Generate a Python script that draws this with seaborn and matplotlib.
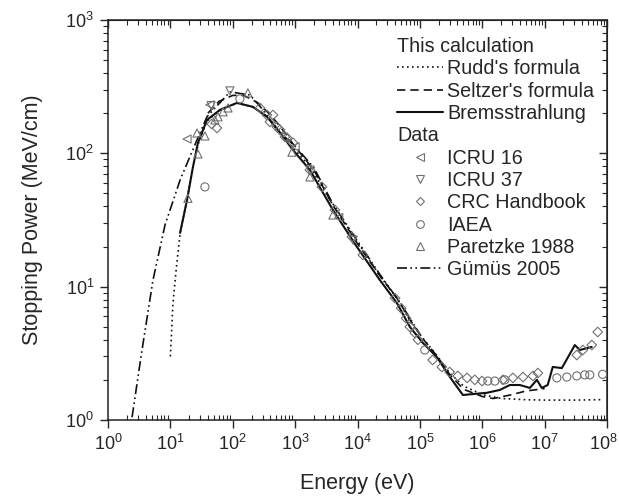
import numpy as np
import pandas as pd
import seaborn as sns
import matplotlib.pyplot as plt
import matplotlib.transforms as mtransforms
from matplotlib.lines import Line2D

# curves (energy in eV, stopping power in MeV/cm)
rudd_e = [10, 11, 12.5, 14.3, 18.5, 23, 28, 38.6, 62, 117, 211, 353, 530, 922, 1726, 4036,
          9772, 2.3e4, 4.3e4, 7e4, 1.12e5, 1.87e5, 3e5, 5e5, 1e6, 2e6, 5e6, 1e7, 3e7, 8e7]
rudd_s = [3.0, 7.5, 14, 25, 45, 78, 118, 175, 210, 238, 222, 190, 152, 110, 80, 41,
          22, 12, 8.2, 5.5, 4.1, 3.05, 2.25, 1.8, 1.55, 1.45, 1.42, 1.41, 1.41, 1.42]

seltzer_e = [40, 60, 100, 150, 250, 400, 600, 1000, 2000, 4000, 1e4, 2.3e4, 4.3e4, 7e4,
             1.1e5, 1.9e5, 3e5, 5e5, 1e6, 1.5e6, 3e6, 5e6, 1e7]
seltzer_s = [200, 245, 272, 272, 240, 195, 155, 112, 75, 41, 21, 12, 8.2, 5.6,
             4.1, 3.0, 2.2, 1.7, 1.5, 1.45, 1.55, 1.65, 1.72]

brems_e = [14.3, 18.5, 23, 27.7, 38.6, 62.4, 117, 211, 353, 530, 922, 1726, 4036, 9772,
           22860, 42760, 69180, 1.12e5, 1.87e5, 3.03e5, 4.89e5, 1.19e6, 1.91e6, 2.77e6,
           4.0e6, 5.8e6, 7.5e6, 9.0e6, 1.12e7, 1.35e7, 1.89e7, 3.05e7, 3.66e7, 5.7e7]
brems_s = [25.3, 44.7, 79, 120, 178, 212, 239, 223, 188, 150, 106, 75, 37.6, 19.9,
           11.2, 7.55, 4.99, 3.78, 2.97, 2.10, 1.54, 1.60, 1.68, 1.83,
           1.83, 1.74, 2.0, 1.74, 1.83, 2.50, 2.45, 3.65, 3.35, 3.53]

gumus_e = [2.43, 3.51, 5.26, 8.2, 14.3, 26.7, 38.6, 90, 189, 305, 511, 1000, 2000, 4000,
           1e4, 2.3e4, 5e4, 1e5]
gumus_s = [1.05, 3.35, 11.2, 29, 63, 126, 188, 289, 274, 212, 150, 113, 78, 42,
           22, 12.3, 7.4, 4.4]

# data points
icru16_e = [18.5, 43, 1000, 5000]
icru16_s = [128, 231, 112, 33]

icru37_e = [90, 45, 1726, 8500]
icru37_s = [294, 228, 75, 22.3]

crc_e = [46, 55.8, 273, 353, 441, 395, 511, 570, 739, 687, 922, 1726, 2690, 4345, 8130,
         12200, 4e4, 5e4, 6e4, 6.9e4, 8.3e4, 9.3e4, 1.6e5, 2.25e5, 3.0e5, 4.06e5, 5.7e5,
         7.6e5, 9.9e5, 2.14e6, 3.1e6, 4.5e6, 6.5e6, 7.8e6, 3.28e7, 4.1e7, 5.7e7, 7.1e7]
crc_s = [166, 155, 219, 194, 194, 172, 158, 150, 131, 133, 120, 75, 56, 37.6, 23.6,
         17.3, 8.2, 6.9, 5.8, 5.0, 4.5, 4.0, 2.82, 2.50, 2.29, 2.14, 2.07,
         2.0, 1.96, 2.0, 2.07, 2.10, 2.14, 2.25, 3.07, 3.35, 3.65, 4.57]

iaea_e = [35.8, 130, 1.2e5, 1.23e6, 1.59e6, 2.3e6, 1.57e7, 2.27e7, 3.28e7, 4.4e7, 5.3e7, 8.5e7]
iaea_s = [56, 256, 3.35, 1.96, 1.96, 2.0, 2.07, 2.10, 2.14, 2.18, 2.18, 2.2]

paretzke_e = [175, 26.7, 35.8, 27.7, 19.1, 51.8, 58, 70, 84, 889, 1726, 4036]
paretzke_s = [284, 142, 135, 99, 46, 178, 188, 205, 219, 102, 66.5, 34.5]

sns.set_style("ticks")
plt.rcParams["font.family"] = ["Liberation Sans", "DejaVu Sans"]
plt.rcParams["mathtext.fontset"] = "custom"
plt.rcParams["mathtext.rm"] = "Liberation Sans"
plt.rcParams["mathtext.it"] = "Liberation Sans:italic"

fig = plt.figure(figsize=(6.19, 4.99), dpi=100)
ax = fig.add_axes([108 / 619, 1 - 420 / 499, 499 / 619, 400 / 499])

line_col = "#111111"
mark_col = "#707070"

rudd_ls = (0, (1, 2))
seltzer_ls = (0, (5, 3))
brems_ls = "-"
gumus_ls = (0, (6, 2, 1, 2, 1, 2))

curves = [
    (rudd_e, rudd_s, rudd_ls, 1.2),
    (seltzer_e, seltzer_s, seltzer_ls, 1.2),
    (brems_e, brems_s, brems_ls, 1.5),
    (gumus_e, gumus_s, gumus_ls, 1.2),
]
for e, s, ls, lw in curves:
    sns.lineplot(x=e, y=s, ax=ax, sort=False, estimator=None, color=line_col,
                 linestyle=ls, linewidth=lw, legend=False)

points = [
    (icru16_e, icru16_s, "<"),
    (icru37_e, icru37_s, "v"),
    (crc_e, crc_s, "D"),
    (iaea_e, iaea_s, "o"),
    (paretzke_e, paretzke_s, "^"),
]
for e, s, m in points:
    sz = 24 if m == "D" else 34
    sns.scatterplot(x=e, y=s, ax=ax, marker=m, s=sz, facecolors="none",
                    edgecolor=mark_col, linewidth=0.8, legend=False, zorder=3)

ax.set_xscale("log")
ax.set_yscale("log")
ax.set_xlim(1, 1e8)
ax.set_ylim(1, 1e3)
ax.set_xticks([10.0 ** k for k in range(9)])
ax.set_yticks([1, 10, 100, 1000])
ax.set_xlabel("Energy (eV)", fontsize=15.5, labelpad=14)
ax.set_ylabel("Stopping Power (MeV/cm)", fontsize=15.5, labelpad=16)

for sp in ax.spines.values():
    sp.set_linewidth(1.1)
    sp.set_color("#222222")

ax.tick_params(which="major", direction="out", length=6, width=1, labelsize=13, pad=4)
ax.tick_params(which="minor", direction="out", length=3.5, width=0.8)
ax.tick_params(axis="x", which="minor", direction="in")

top = ax.secondary_xaxis("top")
top.set_xticks([10.0 ** k for k in range(9)])
top.tick_params(which="major", direction="in", length=6, width=1, labeltop=False)
top.tick_params(which="minor", direction="in", length=3.5, width=0.8)
right = ax.secondary_yaxis("right")
right.set_yticks([1, 10, 100, 1000])
right.tick_params(which="major", direction="in", length=6, width=1, labelright=False)
right.tick_params(which="minor", direction="in", length=3.5, width=0.8)

# nudge the last x tick label so it stays inside the figure
last = ax.xaxis.get_major_ticks()[-1].label1
last.set_transform(last.get_transform()
                   + mtransforms.ScaledTranslation(-4 / 100, 0, fig.dpi_scale_trans))

blank = Line2D([], [], linestyle="none", marker=None)


def mk(m):
    return Line2D([], [], linestyle="none", marker=m, markersize=5.5 if m != "D" else 4.5,
                  markerfacecolor="none", markeredgecolor=mark_col, markeredgewidth=0.8)


handles = [blank,
           Line2D([], [], color=line_col, linestyle=rudd_ls, linewidth=1.2),
           Line2D([], [], color=line_col, linestyle=seltzer_ls, linewidth=1.2),
           Line2D([], [], color=line_col, linestyle=brems_ls, linewidth=1.5),
           blank, mk("<"), mk("v"), mk("D"), mk("o"), mk("^"),
           Line2D([], [], color=line_col, linestyle=gumus_ls, linewidth=1.2)]
labels = ["This calculation", "Rudd's formula", "Seltzer's formula", "Bremsstrahlung",
          "Data", "ICRU 16", "ICRU 37", "CRC Handbook", "IAEA", "Paretzke 1988",
          "Gümüs 2005"]

fs = 14.2
hl, htp = 2.33, 0.2
leg = ax.legend(handles, labels, loc="upper left", bbox_to_anchor=((397 - 108) / 499, 0.958),
                frameon=False, fontsize=fs, handlelength=hl, handletextpad=htp,
                labelspacing=0.17, borderpad=0, borderaxespad=0)
shift = (hl + htp) * fs * fig.dpi / 72
for i in (0, 4):
    leg.get_texts()[i].set_position((-shift, 0))

fig.savefig("out.png", dpi=100)
